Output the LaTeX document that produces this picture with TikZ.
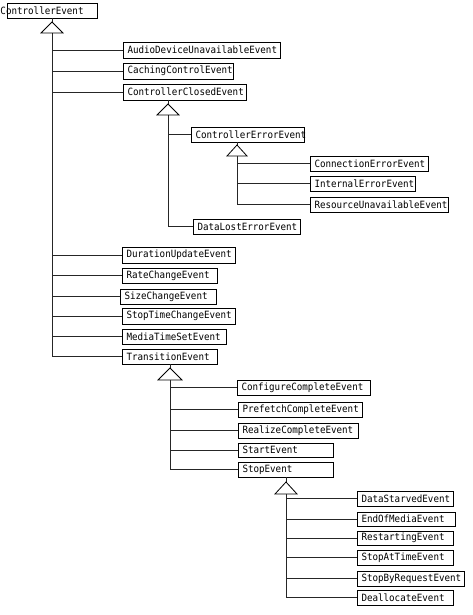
\documentclass[tikz,border=0pt]{standalone}
\usepackage{fontspec}
\newfontfamily\evfont[FakeStretch=0.92]{DejaVu Sans Mono}
\tikzset{
  ev/.style={draw=black, line width=0.9pt, fill=white, rectangle, inner xsep=4pt, inner ysep=0pt, outer sep=0pt, align=left, font=\evfont\fontsize{10}{11}\selectfont},
  conn/.style={draw=black!85, line width=0.9pt},
  tri/.style={draw=black, line width=0.8pt, fill=white, line join=miter},
  shadowline/.style={draw=black, line width=1.8pt}
}
\newcommand\cbox[6]{%
  \pgfmathsetmacro\bw{#4-#2}\pgfmathsetmacro\bh{#5-#3}\pgfmathsetmacro\tw{#4-#2-9}%
  \node[ev, anchor=north west, minimum width=\bw pt, minimum height=\bh pt, text width=\tw pt] (#1) at (#2,#3) {#6};
  \draw[shadowline] ([xshift=0.5pt]#1.north east) -- ([xshift=0.5pt,yshift=-0.5pt]#1.south east) -- ([yshift=-0.5pt]#1.south west);
}
\begin{document}
\begin{tikzpicture}[x=1pt,y=-1pt]
\useasboundingbox[fill=white] (0,0) rectangle (473,615);
% triangle apexes and base centres
\coordinate (t0) at (52,22);  \coordinate (b0) at (52,33);
\coordinate (t1) at (168,104); \coordinate (b1) at (168,115);
\coordinate (t2) at (237,145); \coordinate (b2) at (237,156);
\coordinate (t3) at (170,368); \coordinate (b3) at (170,380);
\coordinate (t4) at (286,482); \coordinate (b4) at (286,494);

\cbox{ce}{7}{3}{97}{18}{\hspace*{-11pt}ControllerEvent}
\cbox{adu}{123}{42}{280}{58}{AudioDeviceUnavailableEvent}
\cbox{ccl}{123}{63}{233}{79}{CachingControlEvent}
\cbox{cclo}{123}{84}{246}{100}{ControllerClosedEvent}
\cbox{cee}{191}{127}{304}{142}{ControllerErrorEvent}
\cbox{conn}{310}{156}{428}{171}{ConnectionErrorEvent}
\cbox{ie}{310}{176}{415}{191}{InternalErrorEvent}
\cbox{ru}{310}{197}{448}{212}{ResourceUnavailableEvent}
\cbox{dl}{193}{219}{300}{234}{DataLostErrorEvent}
\cbox{du}{122}{247}{235}{263}{DurationUpdateEvent}
\cbox{rc}{122}{268}{217}{283}{RateChangeEvent}
\cbox{sc}{120}{289}{216}{304}{SizeChangeEvent}
\cbox{stc}{122}{308}{235}{324}{StopTimeChangeEvent}
\cbox{mts}{122}{329}{226}{344}{MediaTimeSetEvent}
\cbox{te}{122}{349}{217}{364}{TransitionEvent}
\cbox{cc}{237}{380}{370}{395}{ConfigureCompleteEvent}
\cbox{pc}{238}{402}{362}{417}{PrefetchCompleteEvent}
\cbox{rlc}{238}{423}{358}{438}{RealizeCompleteEvent}
\cbox{st}{238}{443}{333}{457}{StartEvent}
\cbox{sp}{238}{462}{333}{477}{StopEvent}
\cbox{ds}{357}{491}{453}{506}{DataStarvedEvent}
\cbox{eom}{357}{512}{455}{526}{EndOfMediaEvent}
\cbox{re}{357}{531}{453}{545}{RestartingEvent}
\cbox{sat}{357}{550}{453}{565}{StopAtTimeEvent}
\cbox{sbr}{357}{571}{464}{586}{StopByRequestEvent}
\cbox{de}{357}{590}{453}{605}{DeallocateEvent}

% parent -> triangle
\draw[conn] (t0 |- ce.south) -- (t0);
\draw[conn] (t1 |- cclo.south) -- (t1);
\draw[conn] (t2 |- cee.south) -- (t2);
\draw[conn] (t3 |- te.south) -- (t3);
\draw[conn] (t4 |- sp.south) -- (t4);

% trunks
\draw[conn] (b0) -- (b0 |- te.west);
\draw[conn] (b1) -- (b1 |- dl.west);
\draw[conn] (b2) -- (b2 |- ru.west);
\draw[conn] (b3) -- (b3 |- sp.west);
\draw[conn] (b4) -- (b4 |- de.west);

% branches
\foreach \n in {adu,ccl,cclo,du,rc,sc,stc,mts,te} \draw[conn] (\n.west) -- (\n.west -| b0);
\foreach \n in {cee,dl} \draw[conn] (\n.west) -- (\n.west -| b1);
\foreach \n in {conn,ie,ru} \draw[conn] (\n.west) -- (\n.west -| b2);
\foreach \n in {cc,pc,rlc,st,sp} \draw[conn] (\n.west) -- (\n.west -| b3);
\foreach \n in {ds,eom,re,sat,sbr,de} \draw[conn] (\n.west) -- (\n.west -| b4);

% triangles
\draw[tri] (t0) -- ++(-11,11) -- ++(22,0) -- cycle;
\draw[tri] (t1) -- ++(-11,11) -- ++(22,0) -- cycle;
\draw[tri] (t2) -- ++(-10,11) -- ++(20,0) -- cycle;
\draw[tri] (t3) -- ++(-12,12) -- ++(24,0) -- cycle;
\draw[tri] (t4) -- ++(-11,12) -- ++(22,0) -- cycle;
\end{tikzpicture}
\end{document}
